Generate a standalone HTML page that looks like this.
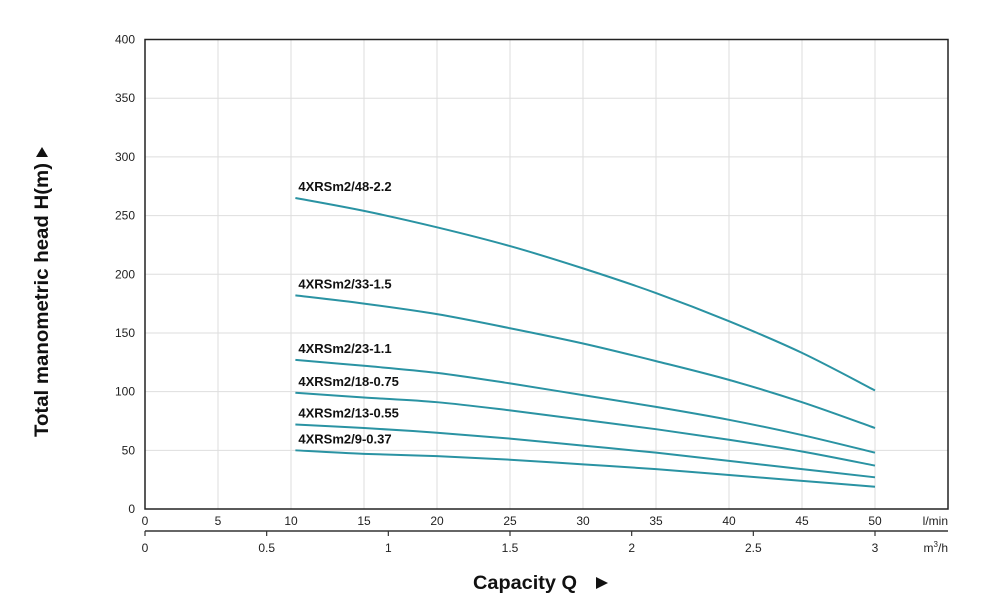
<!DOCTYPE html>
<html><head><meta charset="utf-8"><style>
body{margin:0;background:#fff;}
svg{display:block;font-family:"Liberation Sans",Arial,sans-serif;}
</style></head><body>
<svg id="c" width="1004" height="607"></svg>
<script>
const qPoints=[10.3,15,20,25,30,35,40,45,50];
const seriesNames=["4XRSm2/48-2.2","4XRSm2/33-1.5","4XRSm2/23-1.1","4XRSm2/18-0.75","4XRSm2/13-0.55","4XRSm2/9-0.37"];
const s48=[265,254,240,224,205,184,160,133,101];
const s33=[182,175,166,154,141,126,110,91,69];
const s23=[127,122,116,107,97,87,76,63,48];
const s18=[99,95,91,84,76,68,59,49,37];
const s13=[72,69,65,60,54,48,41,34,27];
const s9=[50,47,45,42,38,34,29,24,19];
const seriesVals=[s48,s33,s23,s18,s13,s9];
const yTicks=[0,50,100,150,200,250,300,350,400];
const xTicks=[0,5,10,15,20,25,30,35,40,45,50];
const x2Ticks=[0,0.5,1,1.5,2,2.5,3];
const x2Labels=["0","0.5","1","1.5","2","2.5","3"];

const NS="http://www.w3.org/2000/svg";
const svg=document.getElementById('c');
const L=145,R=948,T=39.5,B=509;
const X=v=>L+v*14.6;
const Y=v=>B-(v/400)*(B-T);
const X2=v=>X(v*50/3);
function mk(t,a,p){const e=document.createElementNS(NS,t);for(const k in a)e.setAttribute(k,a[k]);(p||svg).appendChild(e);return e;}
function txt(s,x,y,a){const e=mk('text',Object.assign({x:x,y:y,'font-size':12,fill:'#222'},a||{}));e.textContent=s;return e;}

yTicks.forEach(v=>{
 const g=mk('line',{x1:L,x2:R,y1:Y(v),y2:Y(v),stroke:'#dedede','stroke-width':1});
 
 
 const t=txt(String(v),L-10,Y(v)+4,{'text-anchor':'end'});
 
 
});
xTicks.forEach(v=>{
 const g=mk('line',{x1:X(v),x2:X(v),y1:T,y2:B,stroke:'#dedede','stroke-width':1});
 
 
 const t=txt(String(v),X(v),525,{'text-anchor':'middle'});
 
 
});
const fr=mk('rect',{x:L,y:T,width:R-L,height:B-T,fill:'none',stroke:'#222','stroke-width':1.5});


const u1=txt('l/min',R,525,{'text-anchor':'end'});



const ax2=mk('line',{x1:L,x2:R,y1:531,y2:531,stroke:'#333','stroke-width':1.5});


x2Ticks.forEach((v,i)=>{
 const tk=mk('line',{x1:X2(v),x2:X2(v),y1:531,y2:536,stroke:'#333','stroke-width':1.2});
 
 
 const t=txt(x2Labels[i],X2(v),552,{'text-anchor':'middle'});
 
 
});
const u2=mk('text',{x:R,y:552,'font-size':12,fill:'#222','text-anchor':'end'});
u2.innerHTML='m<tspan dy="-5" font-size="8">3</tspan><tspan dy="5">/h</tspan>';



function path(pts){
 let d='M'+pts[0][0]+','+pts[0][1];
 for(let i=0;i<pts.length-1;i++){
  const p0=pts[i-1]||pts[i],p1=pts[i],p2=pts[i+1],p3=pts[i+2]||p2;
  const c1=[p1[0]+(p2[0]-p0[0])/6,p1[1]+(p2[1]-p0[1])/6];
  const c2=[p2[0]-(p3[0]-p1[0])/6,p2[1]-(p3[1]-p1[1])/6];
  d+='C'+c1+' '+c2+' '+p2;
 }
 return d;
}
seriesVals.forEach((vals,si)=>{
 const pts=vals.map((v,i)=>[X(qPoints[i]),Y(v)]);
 const p=mk('path',{d:path(pts),fill:'none',stroke:'#2a93a3','stroke-width':2});
 
 
 const t=txt(seriesNames[si],X(qPoints[0])+3,Y(vals[0])-7,{'font-size':13,'font-weight':'bold',fill:'#111'});
 
 
});

const yt=mk('text',{x:0,y:0,'font-size':19,'font-weight':'bold',fill:'#111','text-anchor':'middle',textLength:274,lengthAdjust:'spacingAndGlyphs',transform:'translate(48,300) rotate(-90)'});
yt.textContent='Total manometric head H(m)';


const ya=mk('path',{d:'M42,147 L36,157 L48,157 Z',fill:'#111'});


const xt=txt('Capacity Q',473,589,{'font-size':19,'font-weight':'bold',fill:'#111',textLength:104,lengthAdjust:'spacingAndGlyphs'});


const xa=mk('path',{d:'M596,577 L608,583 L596,589 Z',fill:'#111'});


</script>
</body></html>
